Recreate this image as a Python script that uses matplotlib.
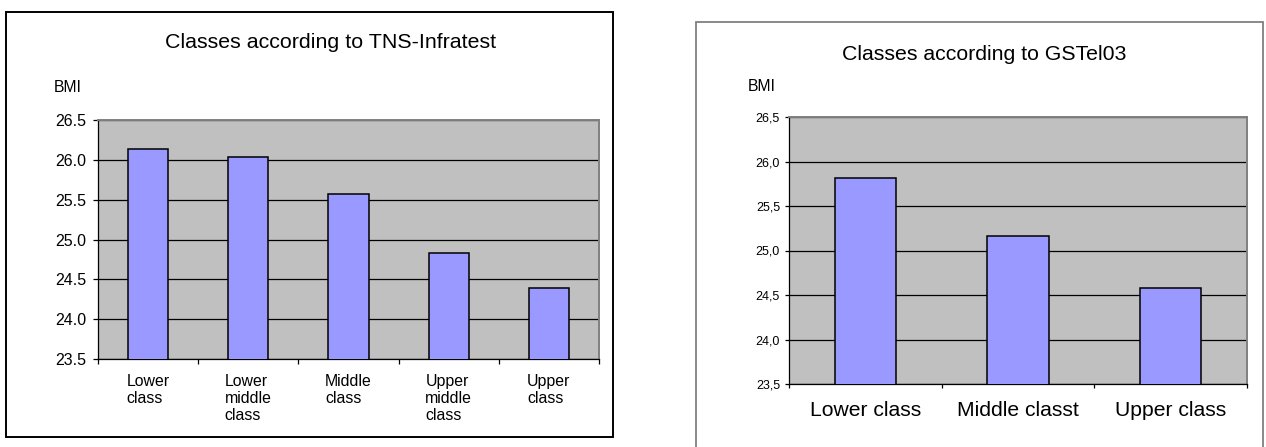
import numpy as np
import matplotlib
matplotlib.use("Agg")
import matplotlib.pyplot as plt
from matplotlib.patches import Rectangle
from matplotlib.ticker import FuncFormatter, MultipleLocator

# ---- data ----
tns_title = "Classes according to TNS-Infratest"
tns_categories = ["Lower\nclass", "Lower\nmiddle\nclass", "Middle\nclass",
                  "Upper\nmiddle\nclass", "Upper\nclass"]
tns_values = [26.13, 26.04, 25.57, 24.83, 24.39]

gst_title = "Classes according to GSTel03"
gst_categories = ["Lower class", "Middle classt", "Upper class"]
gst_values = [25.82, 25.16, 24.58]

y_label = "BMI"
y_min, y_max, y_step = 23.5, 26.5, 0.5

# ---- style ----
plt.rcParams['font.family'] = ['Liberation Sans', 'DejaVu Sans']
W, H = 1266, 447
DPI = 100
fig = plt.figure(figsize=(W / DPI, H / DPI), dpi=DPI)
fig.patch.set_facecolor('white')

BAR = '#9999FF'
BG = '#C0C0C0'


def fx(px):
    return px / W


def fy(py):
    return 1 - py / H


def make_axes(x0, y0, x1, y1):
    return fig.add_axes([fx(x0), fy(y1), fx(x1) - fx(x0), fy(y0) - fy(y1)])


def style(ax, cats, vals, tick_fs, xl_fs, ytick_len, ytick_pad, xpad, comma):
    n = len(cats)
    x = np.arange(n)
    ax.set_facecolor(BG)
    ax.bar(x, vals, width=0.4, color=BAR, edgecolor='black', linewidth=1.1,
           zorder=3)
    ax.set_xlim(-0.5, n - 0.5)
    ax.set_ylim(y_min, y_max)
    ax.yaxis.set_major_locator(MultipleLocator(y_step))
    if comma:
        ax.yaxis.set_major_formatter(
            FuncFormatter(lambda v, p: f"{v:.1f}".replace('.', ',')))
    else:
        ax.yaxis.set_major_formatter(FuncFormatter(lambda v, p: f"{v:.1f}"))
    ax.yaxis.grid(True, color='black', linewidth=0.9, zorder=1)
    ax.set_axisbelow(True)
    ax.set_xticks(x)
    ax.set_xticklabels(cats, fontsize=xl_fs, multialignment='left')
    ax.set_xticks(np.arange(n + 1) - 0.5, minor=True)
    ax.tick_params(axis='x', which='major', length=0, pad=xpad)
    ax.tick_params(axis='x', which='minor', length=ytick_len, width=0.9,
                   direction='out', color='black')
    ax.tick_params(axis='y', length=ytick_len, width=0.9, pad=ytick_pad,
                   labelsize=tick_fs, direction='out')
    for s in ('left', 'bottom'):
        ax.spines[s].set_color('black')
        ax.spines[s].set_linewidth(0.9)
    for s in ('top', 'right'):
        ax.spines[s].set_color('#808080')
        ax.spines[s].set_linewidth(1.4)


# ---- left chart ----
fig.patches.append(Rectangle((fx(6), fy(437)), fx(613) - fx(6), fy(12) - fy(437),
                             transform=fig.transFigure, fill=False,
                             edgecolor='black', linewidth=1.4, zorder=0))
ax1 = make_axes(98, 120, 599, 359)
style(ax1, tns_categories, tns_values, tick_fs=11.5, xl_fs=11.4,
      ytick_len=3.6, ytick_pad=5, xpad=10.5, comma=False)
fig.text(fx(331), fy(48), tns_title, fontsize=15.4, ha='center', va='baseline')
fig.text(fx(54), fy(92.5), y_label, fontsize=11.3, ha='left', va='baseline')

# ---- right chart ----
fig.patches.append(Rectangle((fx(696), fy(470)), fx(1263) - fx(696), fy(22) - fy(470),
                             transform=fig.transFigure, fill=False,
                             edgecolor='#808080', linewidth=1.3, zorder=0))
ax2 = make_axes(789, 117, 1247, 384)
style(ax2, gst_categories, gst_values, tick_fs=9, xl_fs=15.2,
      ytick_len=2.9, ytick_pad=3.6, xpad=12.5, comma=True)
fig.text(fx(984.5), fy(60), gst_title, fontsize=15.3, ha='center', va='baseline')
fig.text(fx(748), fy(91), y_label, fontsize=11.3, ha='left', va='baseline')

fig.savefig('out.png', dpi=DPI, facecolor='white')
